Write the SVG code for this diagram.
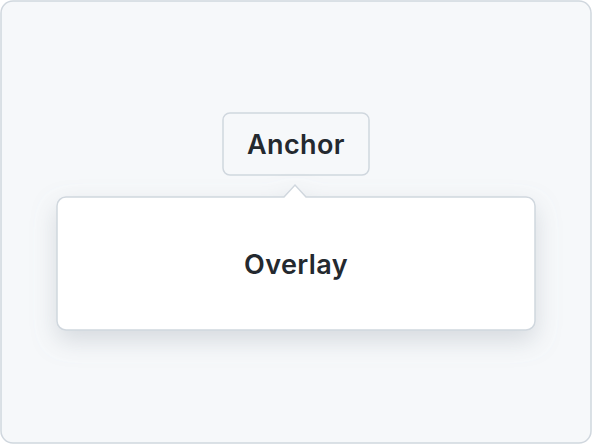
<svg xmlns="http://www.w3.org/2000/svg" width="592" height="444" viewBox="0 0 592 444">
<style>
.lbl{font-family:"Inter","Liberation Sans",sans-serif;font-weight:600;font-size:27px;letter-spacing:0.4px;fill:#24292f;text-anchor:middle}
.edge{stroke:#d0d7de;stroke-width:1.5}
</style>
<defs>
<filter id="sh" x="-20%" y="-30%" width="140%" height="170%">
<feDropShadow dx="0" dy="10" stdDeviation="12" flood-color="#8c959f" flood-opacity="0.3"/>
</filter>
</defs>
<rect x="1" y="1" width="590" height="442" rx="12" fill="#f6f8fa" class="edge"/>
<g id="anchor">
<rect x="223" y="113" width="146" height="62" rx="7" fill="#f6f8fa" class="edge"/>
<text class="lbl" x="296" y="154">Anchor</text>
</g>
<g id="connectors"></g>
<g id="overlay">
<path d="M66 197 H284 L295 185 L306 197 H526 A9 9 0 0 1 535 206 V321 A9 9 0 0 1 526 330 H66 A9 9 0 0 1 57 321 V206 A9 9 0 0 1 66 197 Z" fill="#ffffff" class="edge" filter="url(#sh)"/>
<text class="lbl" x="296" y="274">Overlay</text>
</g>
</svg>
